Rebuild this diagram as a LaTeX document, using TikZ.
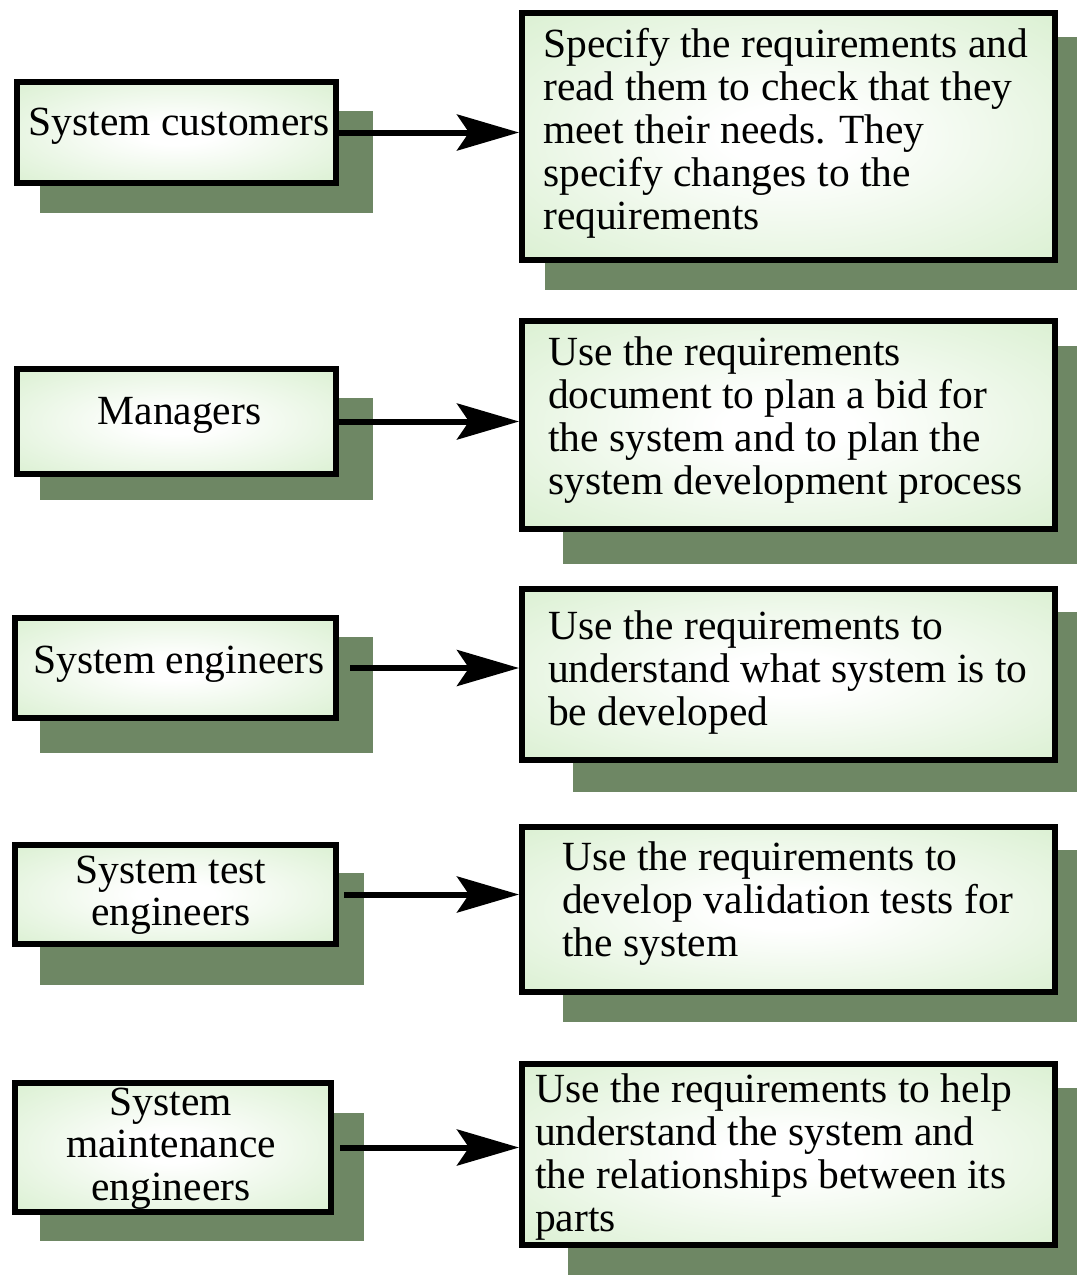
\documentclass[tikz,border=0pt]{standalone}
\usepackage{fontspec}
\setmainfont{Liberation Serif}
\usetikzlibrary{arrows.meta}
\definecolor{boxgreen}{HTML}{CCEAC0}
\definecolor{shadowc}{HTML}{6E8764}
\pgfdeclareradialshading{boxshade}{\pgfpoint{0bp}{0bp}}{color(0bp)=(white); color(6bp)=(white); color(48bp)=(boxgreen); color(75bp)=(boxgreen)}
\tikzset{
  box/.style={draw=black, line width=6pt, shading=boxshade, inner sep=0pt},
  shad/.style={fill=shadowc},
  ltext/.style={font=\fontsize{41.5}{42.5}\selectfont, align=center, inner sep=0pt, anchor=base},
  rtext/.style={font=\fontsize{41.5}{43}\selectfont, align=left, inner sep=0pt, anchor=base west},
  arr/.style={line width=6pt, -{Stealth[length=62pt, width=36pt, inset=12pt]}}
}
\begin{document}
\begin{tikzpicture}[x=1pt,y=-1pt]
\useasboundingbox (0,0) rectangle (1077,1275);
% shadows
\fill[shad] (40,111) rectangle (373,213);
\fill[shad] (40,398) rectangle (373,500);
\fill[shad] (40,637) rectangle (373,753);
\fill[shad] (40,873) rectangle (364,985);
\fill[shad] (40,1113) rectangle (364,1241);
\fill[shad] (545,37) rectangle (1077,290);
\fill[shad] (563,346) rectangle (1077,564);
\fill[shad] (573,612) rectangle (1077,792);
\fill[shad] (563,850) rectangle (1077,1022);
\fill[shad] (568,1088) rectangle (1077,1275);
% left boxes
\node[box, minimum width=319pt, minimum height=101pt] (l1) at (176.5,132.5) {};
\node[box, minimum width=319pt, minimum height=105pt] (l2) at (176.5,421.5) {};
\node[box, minimum width=321pt, minimum height=100pt] (l3) at (175.5,668) {};
\node[box, minimum width=321pt, minimum height=99pt] (l4) at (175.5,894.5) {};
\node[box, minimum width=316pt, minimum height=129pt] (l5) at (173,1147.5) {};
% right boxes
\node[box, minimum width=533pt, minimum height=247pt] (r1) at (788.5,136.5) {};
\node[box, minimum width=533pt, minimum height=208pt] (r2) at (788.5,425) {};
\node[box, minimum width=533pt, minimum height=171pt] (r3) at (788.5,674.5) {};
\node[box, minimum width=533pt, minimum height=165pt] (r4) at (788.5,909.5) {};
\node[box, minimum width=533pt, minimum height=181pt] (r5) at (788.5,1154.5) {};
% left texts (anchored at the baseline of the last line)
\node[ltext] (lt1) at (179,135) {System customers};
\node[ltext] (lt2) at (179.5,424) {Managers};
\node[ltext] (lt3) at (179,673) {System engineers};
\node[ltext] (lt4) at (171,925.5) {System test\\engineers};
\node[ltext] (lt5) at (171,1200) {System\\maintenance\\engineers};
% right texts (anchored at the baseline of the last line)
\node[rtext] (rt1) at (543,229) {Specify the requirements and\\read them to check that they\\meet their needs. They\\specify changes to the\\requirements};
\node[rtext] (rt2) at (548,494) {Use the requirements\\document to plan a bid for\\the system and to plan the\\system development process};
\node[rtext] (rt3) at (548,725) {Use the requirements to\\understand what system is to\\be developed};
\node[rtext] (rt4) at (562,956) {Use the requirements to\\develop validation tests for\\the system};
\node[rtext] (rt5) at (535,1231) {Use the requirements to help\\understand the system and\\the relationships between its\\parts};
% arrows
\draw[arr] (l1.east) -- (l1.east -| r1.west);
\draw[arr] (l2.east) -- (l2.east -| r2.west);
\draw[arr] ([xshift=11pt]l3.east) -- (l3.east -| r3.west);
\draw[arr] ([xshift=5pt]l4.east) -- (l4.east -| r4.west);
\draw[arr] ([xshift=6pt]l5.east) -- (l5.east -| r5.west);
\end{tikzpicture}
\end{document}
